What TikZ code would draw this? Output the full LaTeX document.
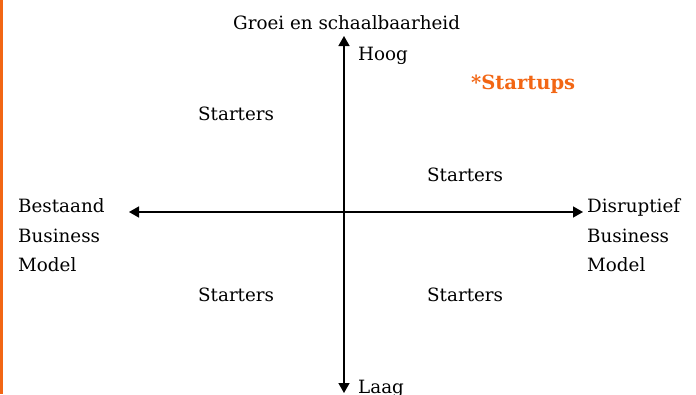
\documentclass[tikz,border=0pt]{standalone}
\usepackage{fontspec}
\setmainfont{DejaVu Serif}
\usetikzlibrary{arrows.meta}
\definecolor{accent}{RGB}{242,102,20}
\tikzset{
  axis/.style={line width=1.5pt, {Triangle[length=10pt,width=11pt]}-{Triangle[length=10pt,width=11pt]}},
  lbl/.style={inner sep=0pt, anchor=base west, font=\fontsize{18.3}{22}\selectfont},
}
\begin{document}
\begin{tikzpicture}[x=1pt,y=-1pt]
\useasboundingbox (0,0) rectangle (696,394);
\fill[accent] (0,0) rectangle (2.5,394);
\coordinate (top) at (344,36);
\coordinate (bot) at (344,393);
\coordinate (lft) at (129,212);
\coordinate (rgt) at (583,212);
\draw[axis] (bot) -- (top);
\draw[axis] (lft) -- (rgt);
\node[lbl] (title) at (233,29.3) {Groei en schaalbaarheid};
\node[lbl] (hoog) at (358,60) {Hoog};
\node[lbl] (laag) at (358,393) {Laag};
\node[lbl, text=accent, font=\fontsize{19.5}{22}\selectfont\bfseries] (startups) at (471,89.3) {*Startups};
\node[lbl] (s1) at (198,120) {Starters};
\node[lbl] (s2) at (427,181) {Starters};
\node[lbl] (s3) at (198,301) {Starters};
\node[lbl] (s4) at (427,301) {Starters};
\node[lbl] (b1) at (18,212) {Bestaand};
\node[lbl] (b2) at (18,242) {Business};
\node[lbl] (b3) at (18,271.5) {Model};
\node[lbl] (d1) at (587,212) {Disruptief};
\node[lbl] (d2) at (587,242) {Business};
\node[lbl] (d3) at (587,271.5) {Model};
\end{tikzpicture}
\end{document}
